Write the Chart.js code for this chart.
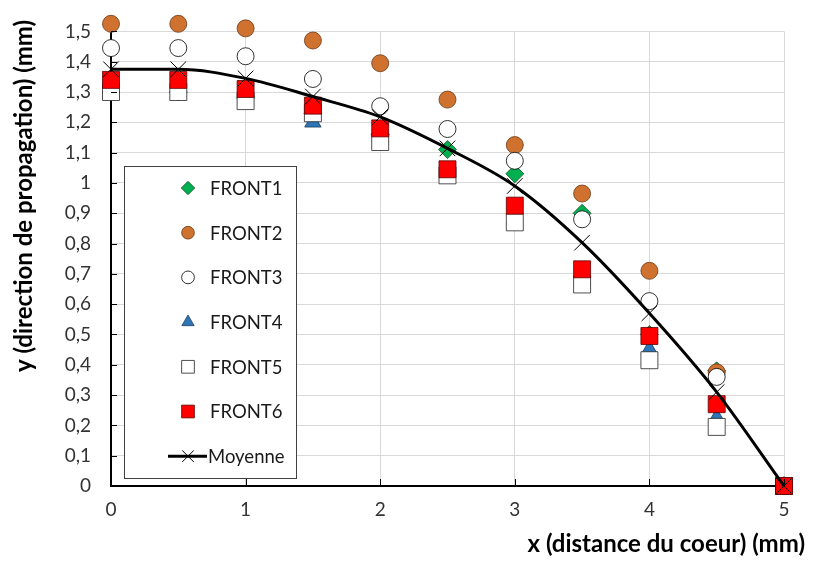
<!DOCTYPE html>
<html>
<head>
<meta charset="utf-8">
<script src="https://cdn.jsdelivr.net/npm/chart.js@4"></script>
<style>
html,body{margin:0;padding:0;background:#fff;}
#wrap{width:814px;height:562px;}
</style>
</head>
<body>
<div id="wrap"><canvas id="c" width="814" height="562"></canvas></div>
<script>
// valeurs
var xs      = [0, 0.5, 1, 1.5, 2, 2.5, 3, 3.5, 4, 4.5, 5];
var front1  = [1.30, 1.30, 1.28, 1.23, 1.16, 1.11, 1.03, 0.90, 0.50, 0.38, 0];
var front2  = [1.525, 1.525, 1.51, 1.47, 1.395, 1.275, 1.125, 0.965, 0.71, 0.375, 0];
var front3  = [1.445, 1.445, 1.418, 1.343, 1.253, 1.178, 1.073, 0.88, 0.61, 0.36, 0];
var front4  = [1.30, 1.30, 1.28, 1.20, 1.15, 1.04, 0.88, 0.68, 0.45, 0.225, 0];
var front5  = [1.30, 1.30, 1.27, 1.23, 1.135, 1.025, 0.87, 0.665, 0.415, 0.195, 0];
var front6  = [1.34, 1.34, 1.31, 1.255, 1.18, 1.045, 0.925, 0.715, 0.495, 0.27, 0];
var moyenne = [1.375, 1.375, 1.345, 1.285, 1.218, 1.114, 0.99, 0.803, 0.57, 0.31, 0];
var names   = ['FRONT1','FRONT2','FRONT3','FRONT4','FRONT5','FRONT6','Moyenne'];

var FONT='Lato';

function pts(ys){
    var r=[];
    for(var i=0;i<xs.length;i++)r.push({x:xs[i],y:ys[i]});
    return r;
}
function ds(i,ys,style,o){
    var d={label:names[i],data:pts(ys),order:o,clip:false,showLine:false,
        pointStyle:style.s,pointRadius:style.r,pointHoverRadius:style.r,
        pointBackgroundColor:style.bg,pointBorderColor:style.bc,pointBorderWidth:style.bw||0.8,
        backgroundColor:style.bg,borderColor:style.bc};
    return d;
}

var datasets=[
    ds(0,front1,{s:'rectRot',r:9,bg:'#00B050',bc:'#1f4e2a'},7),
    ds(1,front2,{s:'circle',r:8.5,bg:'#CF712F',bc:'#6b3a17'},6),
    ds(2,front3,{s:'circle',r:8.5,bg:'#ffffff',bc:'#000000'},5),
    ds(3,front4,{s:'triangle',r:9.5,bg:'#2E75B6',bc:'#1f3f60'},4),
    ds(4,front5,{s:'rect',r:12,bg:'#ffffff',bc:'#222222'},3),
    ds(5,front6,{s:'rect',r:12,bg:'#FF0000',bc:'#5a0000'},2),
    {label:names[6],data:pts(moyenne),order:1,clip:false,showLine:true,cubicInterpolationMode:'monotone',
        borderColor:'#000',borderWidth:3,backgroundColor:'#000',
        pointStyle:'crossRot',pointRadius:11,pointHoverRadius:11,pointBorderColor:'#000',pointBorderWidth:1}
];

// ticks internes (noirs) sur les axes
var innerTicks={
    id:'innerTicks',
    afterDatasetsDraw:function(ch){
        var c=ch.ctx,a=ch.chartArea,sx=ch.scales.x,sy=ch.scales.y;
        c.save();c.strokeStyle='#000';c.lineWidth=1;
        sy.ticks.forEach(function(t){
            var y=Math.round(sy.getPixelForValue(t.value))+0.5;
            c.beginPath();c.moveTo(a.left,y);c.lineTo(a.left+6,y);c.stroke();
        });
        sx.ticks.forEach(function(t){
            var x=Math.round(sx.getPixelForValue(t.value))+0.5;
            c.beginPath();c.moveTo(x,a.bottom);c.lineTo(x,a.bottom-7);c.stroke();
        });
        c.restore();
    }
};

// titres des axes, placés comme sur l'original
var axisTitles={
    id:'axisTitles',
    afterDraw:function(ch){
        var c=ch.ctx;
        c.save();
        c.font='bold 24px '+FONT;c.fillStyle='#000';c.textBaseline='middle';
        c.textAlign='right';
        c.fillText('x (distance du coeur) (mm)',805,544);
        c.translate(24,196);c.rotate(-Math.PI/2);c.textAlign='center';
        c.fillText('y (direction de propagation) (mm)',0,0);
        c.restore();
    }
};

// légende encadrée dans la zone de tracé
var boxLegend={
    id:'boxLegend',
    afterDraw:function(ch){
        var c=ch.ctx,H=Chart.helpers;
        var bx=124,by=166,bw=172,bh=312,mx=188,tx=210,y0=188,step=44.7;
        c.save();
        c.fillStyle='#fff';c.fillRect(bx,by,bw,bh);
        c.strokeStyle='#404040';c.lineWidth=1;c.strokeRect(bx+0.5,by+0.5,bw,bh);
        c.font='18.5px '+FONT;c.textBaseline='middle';c.textAlign='left';
        for(var i=0;i<ch.data.datasets.length;i++){
            var d=ch.data.datasets[i],y=y0+i*step;
            if(d.showLine){
                c.strokeStyle=d.borderColor;c.lineWidth=3;
                c.beginPath();c.moveTo(168,y);c.lineTo(207,y);c.stroke();
            }
            c.fillStyle=d.pointBackgroundColor;c.strokeStyle=d.pointBorderColor;c.lineWidth=d.pointBorderWidth;
            H.drawPoint(c,{pointStyle:d.pointStyle,radius:d.pointRadius*0.75,rotation:0,borderWidth:d.pointBorderWidth},mx,y);
            c.fillStyle='#1a1a1a';
            c.fillText(d.label,d.showLine?208:tx,y+1);
        }
        c.restore();
    }
};

new Chart(document.getElementById('c'),{
    type:'scatter',
    data:{datasets:datasets},
    options:{
        responsive:false,animation:false,
        layout:{padding:{top:23,right:30,left:0,bottom:0}},
        plugins:{legend:{display:false},tooltip:{enabled:false}},
        scales:{
            x:{type:'linear',min:0,max:5,
                ticks:{stepSize:1,padding:12,color:'#333',font:{family:FONT,size:19}},
                grid:{color:'#d9d9d9',lineWidth:1,drawTicks:false},
                border:{color:'#000',width:2},
                afterFit:function(s){s.height=76;}
            },
            y:{type:'linear',min:0,max:1.5,
                ticks:{stepSize:0.1,padding:20,color:'#333',font:{family:FONT,size:19},
                    callback:function(v){return (Math.round(v*10)/10).toString().replace('.',',');}},
                grid:{color:'#d9d9d9',lineWidth:1,drawTicks:false},
                border:{color:'#000',width:2},
                afterFit:function(s){s.width=111;}
            }
        }
    },
    plugins:[innerTicks,axisTitles,boxLegend]
});
</script>
</body>
</html>
